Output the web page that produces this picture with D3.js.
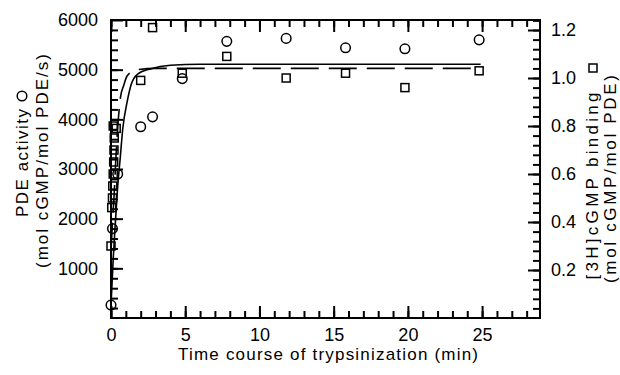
<!DOCTYPE html>
<html>
<head>
<meta charset="utf-8">
<script src="https://cdn.jsdelivr.net/npm/d3@7"></script>
<style>
  body { margin: 0; background: #fff; }
  text { font-family: "Liberation Sans", Arial, sans-serif; fill: #000; }
</style>
</head>
<body>
<script>
// PDE activity (left axis), time in min
var activityTime  = [0, 0.1, 0.45, 2.0, 2.8, 4.8, 7.8, 11.8, 15.8, 19.8, 24.8];
var activityValue = [260, 1800, 2900, 3850, 4050, 4820, 5570, 5630, 5440, 5420, 5600];

// [3H]cGMP binding (right axis)
var bindingTime  = [0, 0.05, 0.1, 0.12, 0.15, 0.18, 0.2, 0.22, 0.15, 0.35, 2.0, 2.8, 4.8, 7.8, 11.8, 15.8, 19.8, 24.8];
var bindingValue = [0.30, 0.46, 0.50, 0.55, 0.60, 0.65, 0.70, 0.75, 0.80, 0.79, 0.99, 1.21, 1.02, 1.09, 1.00, 1.02, 0.96, 1.03];

// fitted curves
var solidTime  = [0, 0.15, 0.3, 0.45, 0.6, 0.8, 1.1, 1.36, 1.8, 2.7, 4, 6, 24.9];
var solidValue = [260, 1200, 1950, 2650, 3150, 3830, 4370, 4700, 4910, 5020, 5090, 5110, 5110];
var dashTime  = [0, 0.1, 0.2, 0.3, 0.46, 0.64, 0.86, 1.1, 1.8, 3, 24.9];
var dashValue = [0.28, 0.40, 0.50, 0.63, 0.80, 0.92, 0.97, 1.01, 1.035, 1.04, 1.04];

// ticks
var xMajor = [0, 5, 10, 15, 20, 25];
var xMinor = d3.range(0, 29, 1);
var leftMajor = [1000, 2000, 3000, 4000, 5000, 6000];
var leftMinor = d3.range(200, 6000, 200);
var rightMajor = [0.2, 0.4, 0.6, 0.8, 1.0, 1.2];
var rightMinor = d3.range(1, 32).map(function (i) { return i * 0.04; });

var svg = d3.select("body").append("svg")
            .attr("width", 620)
            .attr("height", 375);

var plotLeft = 111, plotRight = 540, plotTop = 20, plotBottom = 318;

var x = d3.scaleLinear().domain([0, 28.9]).range([plotLeft, plotRight]);
var yL = d3.scaleLinear().domain([0, 6000]).range([plotBottom, plotTop]);
var yR = d3.scaleLinear().domain([0, 1.2417]).range([plotBottom, plotTop]);

function styleAxis(g) {
  g.select(".domain").remove();
  g.selectAll("line").attr("stroke", "#000").attr("stroke-width", 2);
  g.selectAll("text").style("font-size", "18px").style("font-family", "Liberation Sans, Arial, sans-serif");
}

// bottom axis
svg.append("g").attr("transform", "translate(0," + plotBottom + ")")
   .call(d3.axisBottom(x).tickValues(xMinor).tickSize(-7).tickFormat(""))
   .call(styleAxis);
svg.append("g").attr("transform", "translate(0," + plotBottom + ")")
   .call(d3.axisBottom(x).tickValues(xMajor).tickSize(-12).tickPadding(10).tickFormat(d3.format("d")))
   .call(styleAxis);

// top axis (ticks only)
svg.append("g").attr("transform", "translate(0," + plotTop + ")")
   .call(d3.axisTop(x).tickValues(xMinor).tickSize(-7).tickFormat(""))
   .call(styleAxis);
svg.append("g").attr("transform", "translate(0," + plotTop + ")")
   .call(d3.axisTop(x).tickValues(xMajor).tickSize(-12).tickFormat(""))
   .call(styleAxis);

// left axis
svg.append("g").attr("transform", "translate(" + plotLeft + ",0)")
   .call(d3.axisLeft(yL).tickValues(leftMinor).tickSize(-7).tickFormat(""))
   .call(styleAxis);
svg.append("g").attr("transform", "translate(" + plotLeft + ",0)")
   .call(d3.axisLeft(yL).tickValues(leftMajor).tickSize(-12).tickPadding(13).tickFormat(d3.format("d")))
   .call(styleAxis);

// right axis
svg.append("g").attr("transform", "translate(" + plotRight + ",0)")
   .call(d3.axisRight(yR).tickValues(rightMinor).tickSize(-7).tickFormat(""))
   .call(styleAxis);
svg.append("g").attr("transform", "translate(" + plotRight + ",0)")
   .call(d3.axisRight(yR).tickValues(rightMajor).tickSize(-12).tickPadding(11).tickFormat(d3.format(".1f")))
   .call(styleAxis);

// frame
svg.append("rect")
   .attr("x", plotLeft).attr("y", plotTop)
   .attr("width", plotRight - plotLeft).attr("height", plotBottom - plotTop)
   .attr("fill", "none").attr("stroke", "#000").attr("stroke-width", 2);

// curves
var solidLine = d3.line()
                  .x(function (d, i) { return x(solidTime[i]); })
                  .y(function (d) { return yL(d); })
                  .curve(d3.curveMonotoneX);
svg.append("path").datum(solidValue)
   .attr("d", solidLine)
   .attr("fill", "none").attr("stroke", "#000").attr("stroke-width", 1.6);

var dashLine = d3.line()
                 .x(function (d, i) { return x(dashTime[i]); })
                 .y(function (d) { return yR(d); })
                 .curve(d3.curveMonotoneX);
svg.append("path").datum(dashValue)
   .attr("d", dashLine)
   .attr("fill", "none").attr("stroke", "#000").attr("stroke-width", 1.6)
   .attr("stroke-dasharray", "28,10");

// markers
svg.selectAll("circle.act").data(activityValue).enter().append("circle")
   .attr("class", "act")
   .attr("cx", function (d, i) { return x(activityTime[i]); })
   .attr("cy", function (d) { return yL(d); })
   .attr("r", 4.8)
   .attr("fill", "none").attr("stroke", "#000").attr("stroke-width", 1.5);

svg.selectAll("rect.bind").data(bindingValue).enter().append("rect")
   .attr("class", "bind")
   .attr("x", function (d, i) { return x(bindingTime[i]) - 4; })
   .attr("y", function (d) { return yR(d) - 4; })
   .attr("width", 8).attr("height", 8)
   .attr("fill", "none").attr("stroke", "#000").attr("stroke-width", 1.5);

// axis titles
svg.append("text")
   .attr("x", 328).attr("y", 360)
   .attr("text-anchor", "middle")
   .attr("textLength", 300).attr("lengthAdjust", "spacing")
   .style("font-size", "17px")
   .text("Time course of trypsinization (min)");

svg.append("text")
   .attr("transform", "translate(28,163) rotate(-90)")
   .attr("text-anchor", "middle")
   .attr("textLength", 108).attr("lengthAdjust", "spacing")
   .style("font-size", "17px")
   .text("PDE activity");
svg.append("circle")
   .attr("cx", 22).attr("cy", 96).attr("r", 4.8)
   .attr("fill", "none").attr("stroke", "#000").attr("stroke-width", 1.5);
svg.append("text")
   .attr("transform", "translate(48,161) rotate(-90)")
   .attr("text-anchor", "middle")
   .attr("textLength", 214).attr("lengthAdjust", "spacing")
   .style("font-size", "17px")
   .text("(mol cGMP/mol PDE/s)");

svg.append("text")
   .attr("transform", "translate(598,186) rotate(-90)")
   .attr("text-anchor", "middle")
   .attr("textLength", 187).attr("lengthAdjust", "spacing")
   .style("font-size", "17px")
   .text("[3H]cGMP binding");
svg.append("rect")
   .attr("x", 589).attr("y", 64).attr("width", 8).attr("height", 8)
   .attr("fill", "none").attr("stroke", "#000").attr("stroke-width", 1.5);
svg.append("text")
   .attr("transform", "translate(616,179) rotate(-90)")
   .attr("text-anchor", "middle")
   .attr("textLength", 208).attr("lengthAdjust", "spacing")
   .style("font-size", "17px")
   .text("(mol cGMP/mol PDE)");
</script>
</body>
</html>
